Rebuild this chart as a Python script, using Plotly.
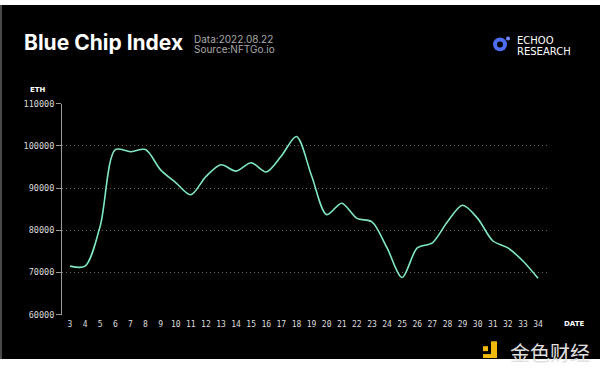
import plotly.graph_objects as go

dates = list(range(3, 35))
index_eth = [71500, 71500, 81000, 99100, 98600, 99100, 94300, 91300, 88400, 92700,
             95500, 94000, 96000, 93800, 97600, 102200, 92900, 83700, 86400, 82800,
             82000, 75800, 68800, 75800, 77000, 82000, 85900, 82800, 77500, 75800,
             72700, 68600]
y_ticks = [60000, 70000, 80000, 90000, 100000, 110000]

W, H = 600, 375
BOT = 16            # white strip at the bottom
AH = H - BOT        # height of the black canvas

def px(x):
    return x / W

def py(y):
    return (AH - y) / AH

fig = go.Figure()
# empty full-canvas subplot: its black plot background forms the dark canvas
fig.add_trace(go.Scatter(x=[], y=[], mode="markers", xaxis="x", yaxis="y",
                         hoverinfo="skip", showlegend=False))
fig.add_trace(go.Scatter(
    x=dates, y=index_eth, mode="lines", xaxis="x2", yaxis="y2",
    line=dict(color="#7fe6c6", width=1.6, shape="spline", smoothing=0.85),
    hoverinfo="skip", showlegend=False,
))

mono = "DejaVu Sans Mono"
fig.update_layout(
    width=W, height=H,
    margin=dict(l=0, r=0, t=0, b=BOT, pad=0),
    paper_bgcolor="#ffffff", plot_bgcolor="#000000",
    xaxis=dict(domain=[0, 1], range=[0, 1], visible=False, fixedrange=True),
    yaxis=dict(domain=[0, 1], range=[0, 1], visible=False, fixedrange=True),
    xaxis2=dict(domain=[px(62), px(548)], anchor="y2", range=[2.47, 34.66],
                tickvals=dates, ticktext=[str(d) for d in dates],
                showgrid=False, zeroline=False, showline=False, ticks="",
                ticklabelstandoff=3,
                tickfont=dict(family=mono, size=8, color="#dddddd"), fixedrange=True),
    yaxis2=dict(domain=[py(314), py(100)], anchor="x2", range=[60000, 110000],
                tickvals=y_ticks, ticktext=[str(v) for v in y_ticks],
                showgrid=True, gridcolor="#666666", griddash="1px,3px", gridwidth=1,
                zeroline=False, showline=True, linecolor="#9a9a9a", linewidth=1,
                ticks="outside", ticklen=5, tickcolor="#9a9a9a",
                tickfont=dict(family=mono, size=8.5, color="#dddddd"), fixedrange=True),
    font=dict(family="Inter", color="#ffffff"),
)

shapes = [
    # left border
    dict(type="rect", xref="paper", yref="paper", x0=px(0), x1=px(2), y0=py(359), y1=py(0),
         fillcolor="#4a4a4a", line=dict(width=0), layer="above"),
    # ECHOO logo icon
    dict(type="circle", xref="paper", yref="paper", x0=px(493), x1=px(507), y0=py(47), y1=py(33),
         fillcolor="#4d6cf2", line=dict(width=0), layer="above"),
    dict(type="circle", xref="paper", yref="paper", x0=px(497), x1=px(503), y0=py(43), y1=py(37),
         fillcolor="#000000", line=dict(width=0), layer="above"),
    dict(type="circle", xref="paper", yref="paper", x0=px(506), x1=px(510), y0=py(36), y1=py(32),
         fillcolor="#6f8bff", line=dict(width=0), layer="above"),
    # watermark icon
    dict(type="rect", xref="paper", yref="paper", x0=px(483), x1=px(488), y0=py(351), y1=py(346),
         fillcolor="#f0b90b", line=dict(width=0), layer="above"),
    dict(type="rect", xref="paper", yref="paper", x0=px(491), x1=px(497), y0=py(358), y1=py(341),
         fillcolor="#f0b90b", line=dict(width=0), layer="above"),
    dict(type="rect", xref="paper", yref="paper", x0=px(483), x1=px(497), y0=py(358), y1=py(354),
         fillcolor="#f0b90b", line=dict(width=0), layer="above"),
]

def ann(text, x, y, size, color, family="Inter", xanchor="left", yanchor="middle", bold=False):
    if bold:
        text = "<b>" + text + "</b>"
    return dict(text=text, x=px(x), y=py(y), xref="paper", yref="paper", showarrow=False,
                xanchor=xanchor, yanchor=yanchor, font=dict(size=size, color=color, family=family))

annotations = [
    ann("Blue Chip Index", 22, 38, 21, "#ffffff", bold=True),
    ann("Data:2022.08.22", 192, 34, 10, "#a8a8a8"),
    ann("Source:NFTGo.io", 192, 45, 10, "#a8a8a8"),
    ann("ECHOO", 515, 36, 10, "#ffffff", family="DejaVu Sans"),
    ann("RESEARCH", 515, 47, 10, "#ffffff", family="DejaVu Sans"),
    ann("ETH", 28, 86, 7, "#ffffff", family="DejaVu Sans", bold=True),
    ann("DATE", 562, 324, 7, "#ffffff", family="DejaVu Sans", bold=True),
    ann("金色财经", 508, 352, 20, "#e0e0e0", family="Noto Sans CJK SC"),
]

fig.update_layout(shapes=shapes, annotations=annotations)
fig.write_html("out.html", config={"displayModeBar": False},
               post_script="document.body.style.margin='0';document.body.style.overflow='hidden';")
